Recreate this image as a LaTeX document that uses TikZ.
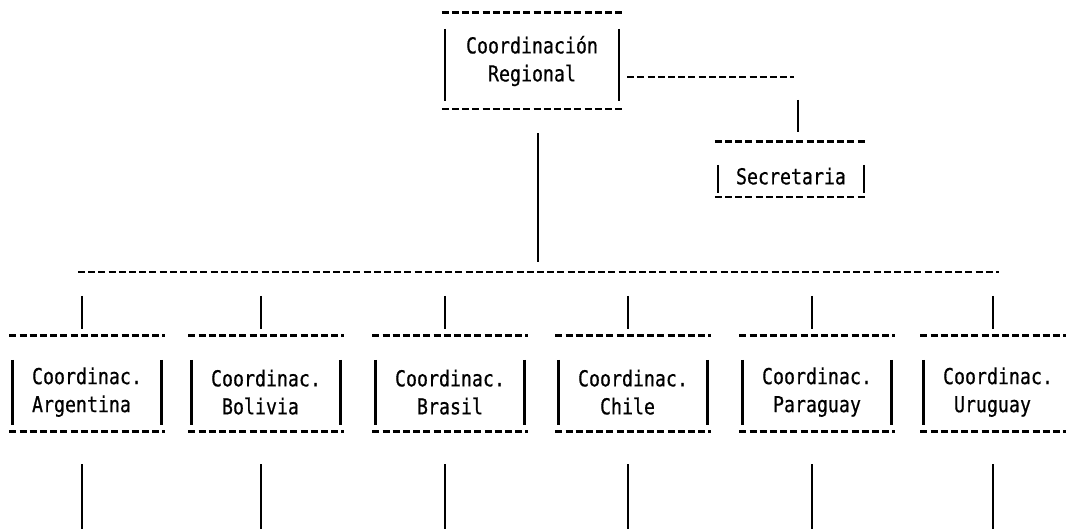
\documentclass[tikz,border=0pt]{standalone}
\usepackage{fontspec}
\newfontfamily\dotfont[FakeStretch=0.83,FakeBold=0.6]{DejaVu Sans Mono}
\newcommand\boxedges[3]{%
  \draw[hd] (#1.north west) -- (#1.north east);
  \draw[hd] (#1.south west) -- (#1.south east);
  \draw[vb] ([xshift=3pt,yshift=-#2]#1.north west) -- ([xshift=3pt,yshift=#3]#1.south west);
  \draw[vb] ([xshift=-3pt,yshift=-#2]#1.north east) -- ([xshift=-3pt,yshift=#3]#1.south east);}
\newcommand\drops[1]{%
  \draw[vb] ([xshift=-5pt,yshift=40pt]#1.north) -- ([xshift=-5pt,yshift=7pt]#1.north);
  \draw[vb] ([xshift=-5pt,yshift=-33pt]#1.south) -- ([xshift=-5pt,yshift=-105pt]#1.south);}
\newcommand\dn[1]{\rule{0pt}{#1}}
\begin{document}
\begin{tikzpicture}[x=1pt,y=-1pt,
  hd/.style={line width=2.6pt, dash pattern=on 7pt off 3.2pt},
  vb/.style={line width=2.5pt},
  org/.style={inner sep=0pt, minimum height=95pt, minimum width=155pt, align=left,
    font=\dotfont\fontsize{22}{28}\selectfont}]
\useasboundingbox (0,0) rectangle (1066,529);
% boxes
\node[org, minimum width=180pt, minimum height=96pt] (reg) at (532,61) {Coordinación\\\hspace*{22pt}Regional};
\node[org, minimum width=152pt, minimum height=55pt] (sec) at (791,169.5) {\dn{30pt}Secretaria};
\node[org] (arg) at (87,383.5) {\dn{34pt}Coordinac.\\Argentina};
\node[org] (bol) at (266,383.5) {\dn{34pt}Coordinac.\\\hspace*{11pt}Bolivia};
\node[org] (bra) at (450,383.5) {\dn{34pt}Coordinac.\\\hspace*{22pt}Brasil};
\node[org] (chi) at (633,383.5) {\dn{34pt}Coordinac.\\\hspace*{22pt}Chile};
\node[org] (par) at (817,383.5) {\dn{34pt}Coordinac.\\\hspace*{11pt}Paraguay};
\node[org] (uru) at (998,383.5) {\dn{34pt}Coordinac.\\\hspace*{11pt}Uruguay};
\boxedges{reg}{16pt}{8pt}
\boxedges{sec}{23pt}{4pt}
\foreach \n in {arg,bol,bra,chi,par,uru}{\boxedges{\n}{24pt}{6pt}}
% connectors
\coordinate (regR) at ([xshift=5pt,yshift=-16pt]reg.east);
\coordinate (elbow) at (794,77);
\coordinate (secIn) at ([xshift=7pt,yshift=10pt]sec.north);
\draw[hd] (regR) -- (elbow);
\draw[vb] ([yshift=32pt]secIn) -- (secIn);
\draw[vb] ([xshift=6pt,yshift=-24pt]reg.south) -- ([xshift=6pt,yshift=-153pt]reg.south);
\coordinate (busL) at (78,272);
\coordinate (busR) at (999,272);
\draw[hd] (busL) -- (busR);
\foreach \n in {arg,bol,bra,chi,par,uru}{\drops{\n}}
\end{tikzpicture}
\end{document}
